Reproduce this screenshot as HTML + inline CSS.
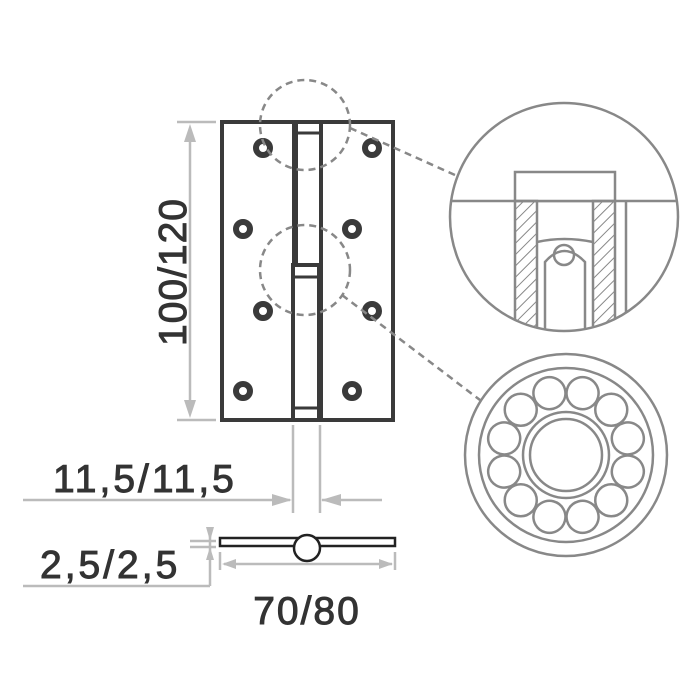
<!DOCTYPE html>
<html><head><style>body{margin:0;background:#fff}svg{display:block}</style></head><body>
<svg width="700" height="700" viewBox="0 0 700 700" xmlns="http://www.w3.org/2000/svg">
<defs>
<pattern id="h" width="8" height="8" patternUnits="userSpaceOnUse" patternTransform="rotate(45)"><line x1="0" y1="0" x2="0" y2="8" stroke="#888" stroke-width="2"/></pattern>
<clipPath id="c1"><circle cx="564" cy="217" r="113"/></clipPath>
</defs>
<g fill="#fff" stroke="#3a3a3a" stroke-width="4">
<rect x="222" y="122" width="72" height="298"/>
<rect x="321" y="122" width="72" height="298"/>
<rect x="296" y="122" width="25" height="153"/>
<rect x="293" y="265" width="26" height="155"/>
<line x1="296" y1="133" x2="321" y2="133" stroke-width="3"/>
<line x1="293" y1="277" x2="319" y2="277" stroke-width="3"/>
<line x1="293" y1="408" x2="319" y2="408" stroke-width="3"/>
</g>
<g fill="#fff" stroke="#3a3a3a" stroke-width="6">
<circle cx="263" cy="148" r="7"/><circle cx="372" cy="148" r="7"/>
<circle cx="243" cy="229" r="7"/><circle cx="352" cy="229" r="7"/>
<circle cx="263" cy="311" r="7"/><circle cx="372" cy="311" r="7"/>
<circle cx="243" cy="391" r="7"/><circle cx="352" cy="391" r="7"/>
</g>
<g fill="none" stroke="#888" stroke-width="2.5" stroke-dasharray="7 5">
<circle cx="305" cy="125" r="45"/><circle cx="305" cy="270" r="45"/>
<line x1="350" y1="128" x2="455" y2="175"/><line x1="342" y1="295" x2="480" y2="400"/>
</g>
<g fill="none" stroke="#888" stroke-width="2.5">
<circle cx="564" cy="217" r="114"/>
<g clip-path="url(#c1)">
<line x1="440" y1="201" x2="690" y2="201"/>
<rect x="515" y="172" width="100" height="29" fill="#fff"/>
<rect x="515" y="201" width="22" height="140" fill="url(#h)"/>
<rect x="593" y="201" width="22" height="140" fill="url(#h)"/>
<line x1="626" y1="201" x2="626" y2="340"/>
<path d="M537 242 Q564 236 593 242"/>
<path d="M545 340 V262 Q564 240 585 262 V340"/>
<circle cx="564" cy="255" r="10"/>
</g>
<circle cx="566" cy="455" r="101"/>
<circle cx="566" cy="455" r="87"/>
<circle cx="566" cy="455" r="43"/>
<circle cx="566" cy="455" r="36"/>
<g>
<circle cx="566" cy="391" r="16" transform="rotate(15 566 455)"/>
<circle cx="566" cy="391" r="16" transform="rotate(45 566 455)"/>
<circle cx="566" cy="391" r="16" transform="rotate(75 566 455)"/>
<circle cx="566" cy="391" r="16" transform="rotate(105 566 455)"/>
<circle cx="566" cy="391" r="16" transform="rotate(135 566 455)"/>
<circle cx="566" cy="391" r="16" transform="rotate(165 566 455)"/>
<circle cx="566" cy="391" r="16" transform="rotate(195 566 455)"/>
<circle cx="566" cy="391" r="16" transform="rotate(225 566 455)"/>
<circle cx="566" cy="391" r="16" transform="rotate(255 566 455)"/>
<circle cx="566" cy="391" r="16" transform="rotate(285 566 455)"/>
<circle cx="566" cy="391" r="16" transform="rotate(315 566 455)"/>
<circle cx="566" cy="391" r="16" transform="rotate(345 566 455)"/>
</g>
</g>
<g stroke="#bbb" stroke-width="2.5" fill="none">
<line x1="177" y1="122" x2="216" y2="122"/><line x1="177" y1="420" x2="216" y2="420"/>
<line x1="190" y1="130" x2="190" y2="412"/>
<line x1="293" y1="425" x2="293" y2="513"/><line x1="320" y1="425" x2="320" y2="513"/>
<line x1="23" y1="500" x2="290" y2="500"/><line x1="322" y1="500" x2="382" y2="500"/>
<line x1="23" y1="586" x2="210" y2="586"/><line x1="210" y1="586" x2="210" y2="530"/>
<line x1="190" y1="541" x2="216" y2="541"/><line x1="190" y1="547" x2="216" y2="547"/>
<line x1="220" y1="552" x2="220" y2="570"/><line x1="395" y1="552" x2="395" y2="570"/>
<line x1="224" y1="564" x2="392" y2="564"/>
</g>
<g fill="#bbb">
<polygon points="190,124 184,142 196,142"/><polygon points="190,418 184,400 196,400"/>
<polygon points="292,500 272,494 272,506"/><polygon points="321,500 341,494 341,506"/>
<polygon points="210,541 206,527 214,527"/><polygon points="210,547 206,560 214,560"/>
<polygon points="222,564 236,559 236,569"/><polygon points="393,564 379,559 379,569"/>
</g>
<rect x="220" y="538" width="175" height="8" fill="#fff" stroke="#222" stroke-width="2.5"/>
<circle cx="307" cy="548" r="13" fill="#fff" stroke="#222" stroke-width="2.5"/>
<g font-family="Liberation Sans, sans-serif" fill="#333" stroke="#333" stroke-width="1" font-size="39">
<text x="186" y="272" text-anchor="middle" transform="rotate(-90 186 272)" letter-spacing="1">100/120</text>
<text x="53" y="492" letter-spacing="3">11,5/11,5</text>
<text x="40" y="578" letter-spacing="3">2,5/2,5</text>
<text x="307" y="624" text-anchor="middle" letter-spacing="2">70/80</text>
</g>
</svg>
</body></html>
